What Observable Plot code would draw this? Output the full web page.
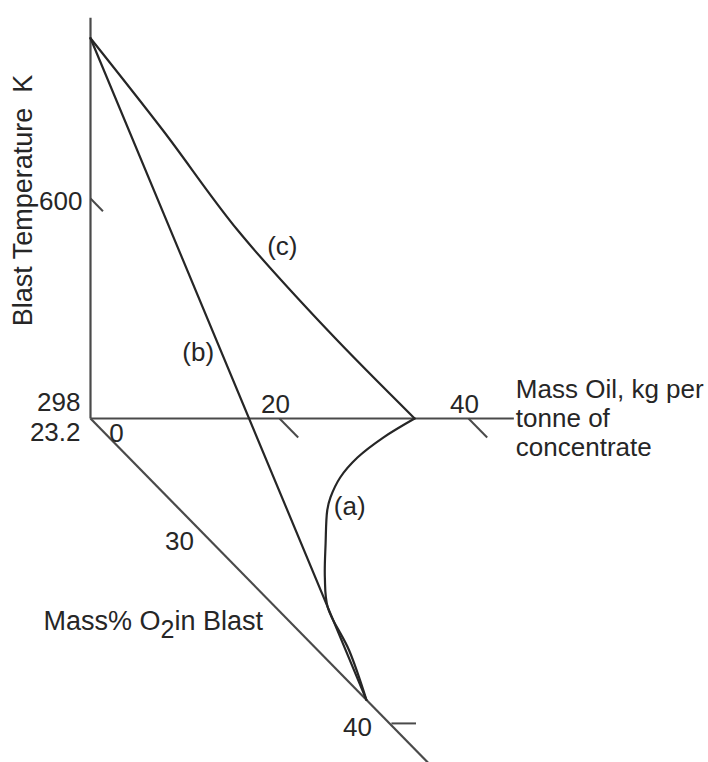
<!DOCTYPE html>
<html>
<head>
<meta charset="utf-8">
<script src="https://cdn.jsdelivr.net/npm/d3@7"></script>
<script src="https://cdn.jsdelivr.net/npm/@observablehq/plot@0.6"></script>
<style>
  html, body { margin: 0; padding: 0; background: #fff; }
  #chart svg { display: block; }
</style>
</head>
<body>
<div id="chart"></div>
<script>
// ---------------- data ----------------
const baseTemp = 298;          // K, origin of the temperature axis
const baseO2 = 23.2;           // mass % O2, origin of the O2 axis
const apexTemp = 820;          // K, where curves (b) and (c) start

// curve (c): blast temperature vs mass oil, at 23.2 % O2
const cOil  = [0, 7.7, 15.6, 25.1, 34.3];
const cTemp = [820, 693, 556, 419, 298];

// curve (a): mass oil vs mass % O2, at 298 K
const aOil = [34.3, 29.0, 24.2, 20.3, 17.2, 15.5, 11.9, 8.3, 5.5, 3.3, 0];
const aO2  = [23.2, 24.25, 25.35, 26.45, 27.55, 28.27, 30.09, 31.96, 33.61, 35.98, 38.7];

// curve (b): blast temperature vs mass % O2, no oil
const bTemp = [820, 298];
const bO2   = [23.2, 38.7];

// axes
const tempAxisEnd = 848;
const oilAxisEnd = 44.8;
const o2AxisEnd = 42.3;
const tempTicks = [600];
const oilTicks = [20, 40];
const o2Ticks = [30, 40];

// ---------------- oblique projection ----------------
const PX_PER_OIL = 9.45, PX_PER_K = 0.7285;
const O2_DX = 17.8, O2_DY = 18.15;      // px per % O2 along the oblique axis
const W = 708, H = 762, OX = 90, OY = 418;
function P(oil, o2, t) {
  return {
    x: oil + (o2 - baseO2) * O2_DX / PX_PER_OIL,
    y: t - (o2 - baseO2) * O2_DY / PX_PER_K
  };
}

const curveC = cOil.map((o, i) => P(o, baseO2, cTemp[i]));
const curveA = aOil.map((o, i) => P(o, aO2[i], baseTemp));
const curveB = bTemp.map((t, i) => P(0, bO2[i], t));

const seg = ([a, b]) => ({x1: a.x, y1: a.y, x2: b.x, y2: b.y});
const axes = [
  [P(0, baseO2, baseTemp), P(0, baseO2, tempAxisEnd)],
  [P(0, baseO2, baseTemp), P(oilAxisEnd, baseO2, baseTemp)],
  [P(0, baseO2, baseTemp), P(0, o2AxisEnd, baseTemp)]
].map(seg);

const ticks = [
  ...tempTicks.map(t => [P(0, baseO2, t), P(0, baseO2 + 0.7, t)]),
  ...oilTicks.map(v => [P(v, baseO2, baseTemp), P(v, baseO2 + 1.05, baseTemp)]),
  [P(0.2, 40, baseTemp), P(2.8, 40, baseTemp)]
].map(seg);

const origin = P(0, baseO2, baseTemp);
const labels = [
  {...P(0, baseO2, 600), text: "600", dx: -8, dy: 3, anchor: "end"},
  {...origin, text: "298", dx: -10, dy: -16, anchor: "end"},
  {...origin, text: "23.2", dx: -10, dy: 14, anchor: "end"},
  {...origin, text: "0", dx: 26, dy: 15, anchor: "middle"},
  ...oilTicks.map(v => ({...P(v, baseO2, baseTemp), text: String(v), dx: -4, dy: -14, anchor: "middle"})),
  ...o2Ticks.map(v => ({...P(0, v, baseTemp), text: String(v), dx: -32, dy: v === 40 ? 4 : 0, anchor: "middle"})),
  {...P(18.3, 28.05, baseTemp), text: "(a)", dx: 0, dy: 0, anchor: "middle"},
  {...P(11.4, baseO2, 389), text: "(b)", dx: 0, dy: 0, anchor: "middle"},
  {...P(20.3, baseO2, 534), text: "(c)", dx: 0, dy: 0, anchor: "middle"}
];

const xDomain = [-OX / PX_PER_OIL, (W - OX) / PX_PER_OIL];
const yDomain = [baseTemp - (H - OY) / PX_PER_K, baseTemp + OY / PX_PER_K];

const FONT = "'Liberation Sans', Arial, Helvetica, sans-serif";
const INK = "#262626";
const FS = 26;

const oilEnd = P(oilAxisEnd, baseO2, baseTemp);
const o2Lab = P(0, 33, baseTemp);
const tLab = P(0, baseO2, 600);

const chart = Plot.plot({
  width: W, height: H,
  margin: 0,
  style: {fontFamily: FONT, background: "#fff"},
  x: {domain: xDomain, axis: null},
  y: {domain: yDomain, axis: null},
  marks: [
    Plot.link(axes, {x1: "x1", y1: "y1", x2: "x2", y2: "y2", stroke: "#4a4a4a", strokeWidth: 2.2}),
    Plot.link(ticks, {x1: "x1", y1: "y1", x2: "x2", y2: "y2", stroke: "#4a4a4a", strokeWidth: 2}),
    Plot.line(curveC, {x: "x", y: "y", curve: "catmull-rom", stroke: INK, strokeWidth: 2.2}),
    Plot.line(curveB, {x: "x", y: "y", stroke: INK, strokeWidth: 2.2}),
    Plot.line(curveA, {x: "x", y: "y", curve: "catmull-rom", stroke: INK, strokeWidth: 2.2}),
    ...labels.map(d =>
      Plot.text([d], {x: "x", y: "y", text: "text", dx: d.dx, dy: d.dy, textAnchor: d.anchor, fontSize: FS, fill: INK})),
    Plot.text([oilEnd], {x: "x", y: "y", text: () => "Mass Oil, kg per\ntonne of\nconcentrate", textAnchor: "start", lineAnchor: "middle", lineHeight: 1.12, dx: 2, dy: -1, fontSize: FS, fill: INK}),
    Plot.text([o2Lab], {x: "x", y: "y", text: () => "Mass% O2in Blast", textAnchor: "end", dx: -2, dy: 25, fontSize: 27, fill: INK}),
    Plot.text([tLab], {x: "x", y: "y", text: () => "Blast Temperature  K", rotate: -90, textAnchor: "middle", dx: -67, dy: 2, fontSize: 27, fill: INK})
  ]
});

document.getElementById("chart").appendChild(chart);

// subscript "2" in the O2 label
d3.select(chart).selectAll("text").each(function () {
  const t = d3.select(this);
  if (t.text() === "Mass% O2in Blast") {
    t.text(null);
    t.append("tspan").text("Mass% O");
    t.append("tspan").attr("dy", 8).attr("font-size", 25).text("2");
    t.append("tspan").attr("dy", -8).text("in Blast");
  }
});
</script>
</body>
</html>
